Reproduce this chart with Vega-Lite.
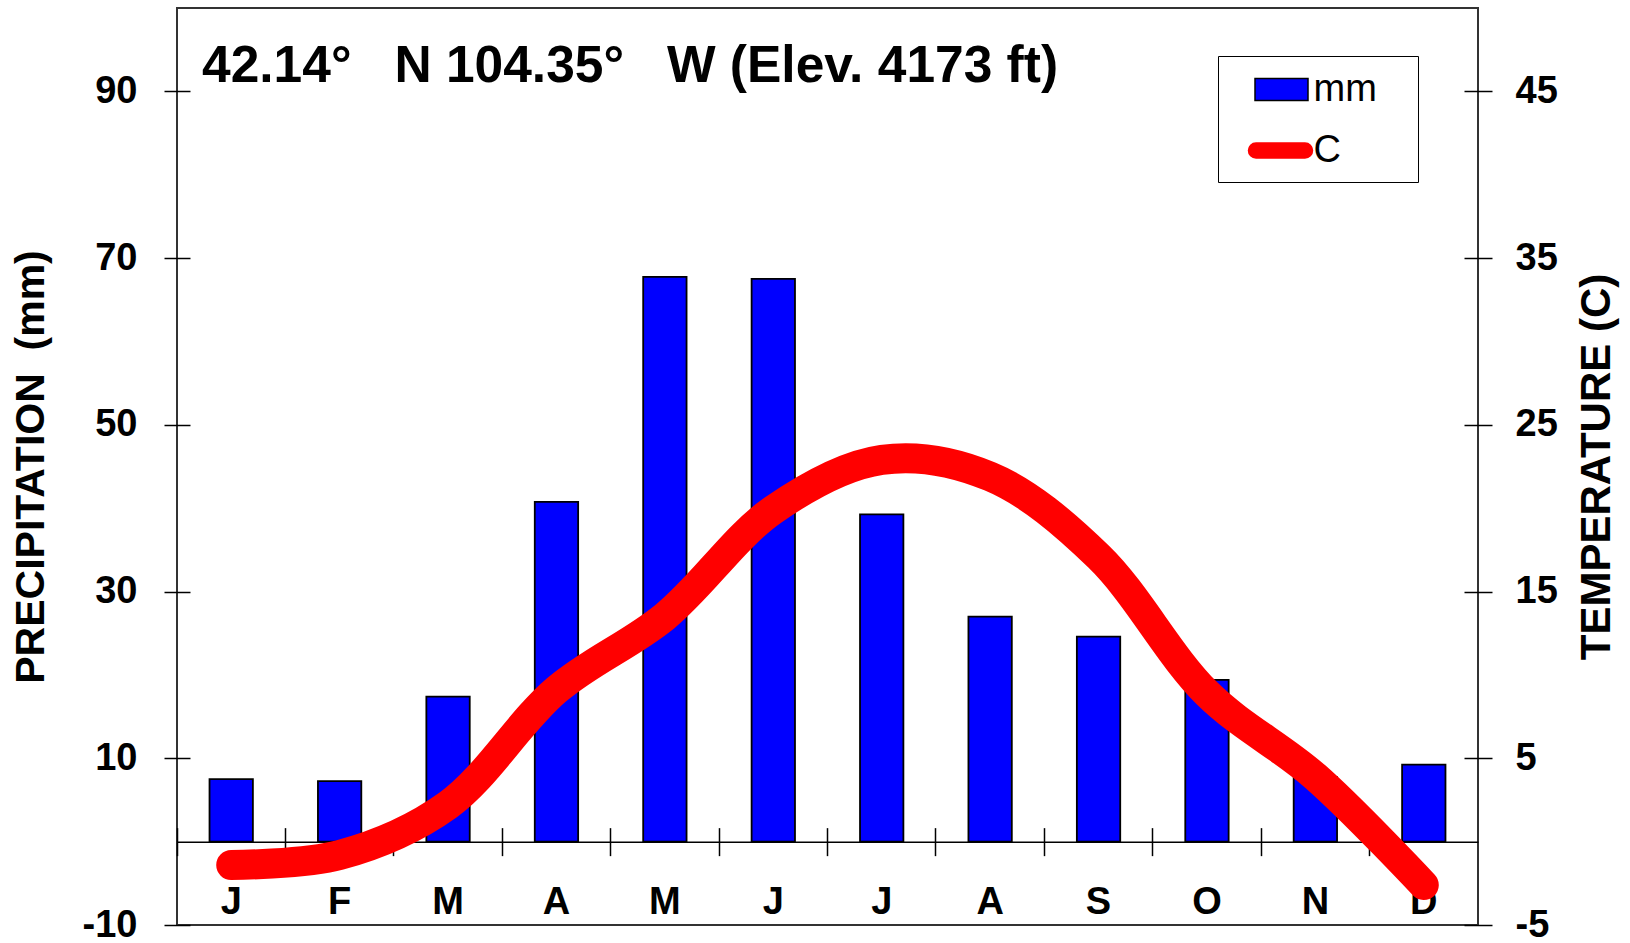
{
  "$schema": "https://vega.github.io/schema/vega-lite/v6.json",
  "width": 1301,
  "height": 917,
  "autosize": "none",
  "padding": {"left": 177, "top": 8, "right": 152, "bottom": 18},
  "background": "white",
  "title": {
    "text": "42.14°\u00a0\u00a0 N 104.35°\u00a0\u00a0 W (Elev. 4173 ft)",
    "anchor": "start",
    "frame": "group",
    "dx": 25,
    "dy": 52,
    "offset": -73,
    "baseline": "alphabetic",
    "font": "Liberation Sans",
    "fontSize": 51.5,
    "fontWeight": "bold",
    "color": "black"
  },
  "data": {
    "values": [
      {"month": "Jan", "mm": 7.5, "temp": -1.4},
      {"month": "Feb", "mm": 7.25, "temp": -0.8},
      {"month": "Mar", "mm": 17.4, "temp": 2.2},
      {"month": "Apr", "mm": 40.75, "temp": 9.1},
      {"month": "May", "mm": 67.75, "temp": 13.5},
      {"month": "Jun", "mm": 67.5, "temp": 19.9},
      {"month": "Jul", "mm": 39.25, "temp": 22.9},
      {"month": "Aug", "mm": 27, "temp": 21.9},
      {"month": "Sep", "mm": 24.6, "temp": 17.1},
      {"month": "Oct", "mm": 19.4, "temp": 8.9},
      {"month": "Nov", "mm": 7.75, "temp": 3.9},
      {"month": "Dec", "mm": 9.25, "temp": -2.6}
    ]
  },
  "layer": [
    {
      "encoding": {
        "x": {
          "field": "month", "type": "nominal", "sort": null,
          "scale": {"paddingInner": 0, "paddingOuter": 0},
          "axis": {
            "orient": "bottom", "offset": -83.36, "bandPosition": 0,
            "title": null, "grid": false,
            "domain": true, "domainColor": "black", "domainWidth": 1.5,
            "ticks": true, "tickSize": 14, "tickColor": "black", "tickWidth": 1.5,
            "labelPadding": 28, "labelAngle": 0,
            "labelExpr": "substring(datum.label, 0, 1)",
            "labelFont": "Liberation Sans", "labelFontSize": 38, "labelFontWeight": "bold", "labelColor": "black"
          }
        },
        "y": {
          "field": "mm", "type": "quantitative",
          "scale": {"domain": [-10, 100], "nice": false, "zero": false},
          "axis": {
            "orient": "left", "values": [-10, 10, 30, 50, 70, 90],
            "labelExpr": "'' + datum.value",
            "domain": false, "grid": false, "offset": -13,
            "tickSize": 26, "tickColor": "black", "tickWidth": 1.5,
            "labelPadding": 27, "labelFont": "Liberation Sans", "labelFontSize": 38, "labelFontWeight": "bold", "labelColor": "black",
            "title": "PRECIPITATION\u00a0 (mm)", "titleFont": "Liberation Sans", "titleFontSize": 41, "titleFontWeight": "bold", "titleColor": "black",
            "titlePadding": 30
          }
        }
      },
      "layer": [
        {
          "mark": {"type": "bar", "width": {"band": 0.4}, "fill": "#0000ff", "stroke": "black", "strokeWidth": 1.8}
        },
        {
          "mark": {
            "type": "point",
            "filled": true,
            "opacity": {"expr": "datum.month ? 0 : 1"},
            "fill": {"expr": "datum.value === 'mm' ? '#0000ff' : '#ff0000'"},
            "stroke": {"expr": "datum.value === 'mm' ? 'black' : '#ff0000'"}
          },
          "encoding": {
            "shape": {
              "datum": "mm",
              "scale": {"domain": ["mm", "C"], "range": ["M-1.325,-0.55H1.325V0.55H-1.325Z", "M-1.275,-0.375H1.175A0.375,0.375,0,0,1,1.175,0.375H-1.275A0.375,0.375,0,0,1,-1.275,-0.375Z"]},
              "legend": {
                "orient": "none", "legendX": 1041, "legendY": 48,
                "title": null,
                "padding": 12.5, "strokeColor": "black", "fillColor": "white",
                "symbolSize": 1600, "symbolStrokeWidth": 1.5, "symbolOffset": 30, "labelOffset": 11,
                "rowPadding": 21,
                "labelFont": "Liberation Sans", "labelFontSize": 38, "labelFontWeight": "normal", "labelColor": "black",
                "labelExpr": "datum.label == 'mm' ? 'mm\u2800' : datum.label"
              }
            }
          }
        }
      ]
    },
    {
      "mark": {"type": "line", "stroke": "#ff0000", "strokeWidth": 30, "strokeCap": "round", "strokeJoin": "round", "interpolate": "catmull-rom"},
      "encoding": {
        "x": {
          "field": "month", "type": "nominal", "sort": null,
          "axis": {
            "orient": "top", "offset": -833.64, "bandPosition": 0,
            "title": null, "grid": false, "domain": false, "labels": false,
            "ticks": true, "tickSize": 14, "tickColor": "black", "tickWidth": 1.5
          }
        },
        "y": {
          "field": "temp", "type": "quantitative",
          "scale": {"domain": [-5, 50], "nice": false, "zero": false},
          "axis": {
            "orient": "right", "values": [-5, 5, 15, 25, 35, 45],
            "labelExpr": "'' + datum.value",
            "domain": false, "grid": false, "offset": -14,
            "tickSize": 28, "tickColor": "black", "tickWidth": 1.5,
            "labelPadding": 23, "labelFont": "Liberation Sans", "labelFontSize": 38, "labelFontWeight": "bold", "labelColor": "black",
            "title": "TEMPERATURE (C)", "titleFont": "Liberation Sans", "titleFontSize": 42, "titleFontWeight": "bold", "titleColor": "black",
            "titleAngle": 270, "titlePadding": 61
          }
        }
      }
    }
  ],
  "resolve": {"scale": {"y": "independent"}, "axis": {"x": "independent", "y": "independent"}},
  "config": {"view": {"stroke": "#333333", "strokeWidth": 2}}
}
